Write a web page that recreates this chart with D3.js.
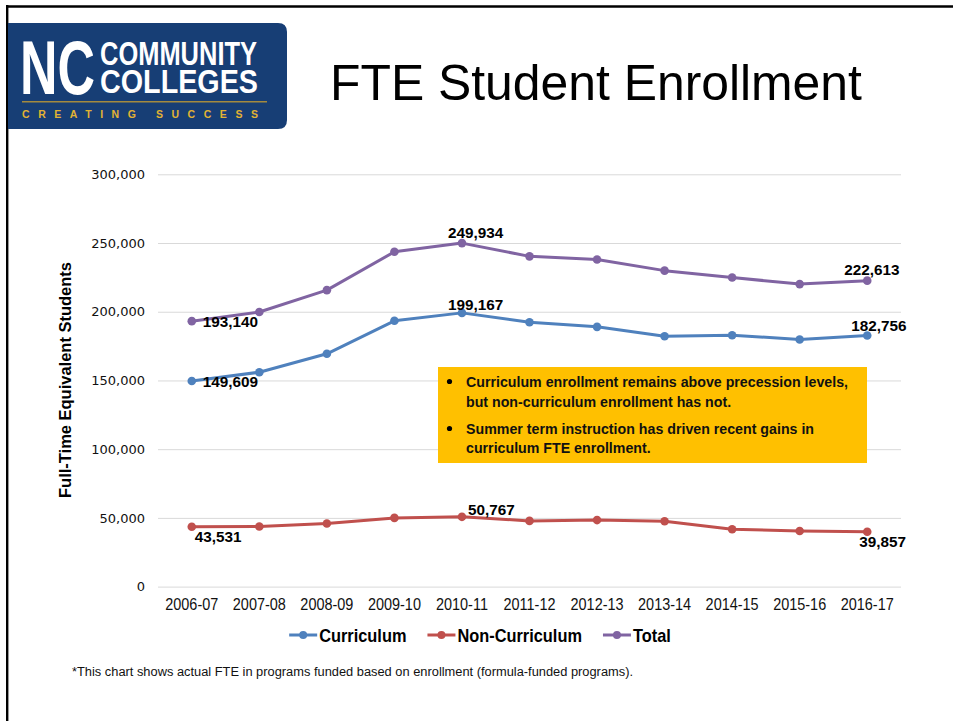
<!DOCTYPE html>
<html>
<head>
<meta charset="utf-8">
<script src="https://cdn.jsdelivr.net/npm/d3@7"></script>
<style>
  html, body { margin: 0; padding: 0; background: #fff; }
  svg { display: block; }
  .logo-line { font-family: 'Liberation Sans', Arial, sans-serif; font-weight: bold; font-size: 33px;
    line-height: 28px; height: 28px; color: #fff; white-space: nowrap; transform-origin: 0 0;
    margin: 0; padding: 0; overflow: visible; }
</style>
</head>
<body>
<svg id="chart" width="953" height="721"></svg>
<script>
// ---------------- data ----------------
const categories = ["2006-07","2007-08","2008-09","2009-10","2010-11","2011-12","2012-13","2013-14","2014-15","2015-16","2016-17"];
const curriculum    = [149609, 156000, 169400, 193400, 199167, 192400, 189000, 182200, 182900, 179800, 182756];
const nonCurriculum = [43531, 43700, 45900, 50000, 50767, 47800, 48400, 47500, 41700, 40500, 39857];
const total         = [193140, 199800, 215700, 243600, 249934, 240300, 238000, 229900, 224900, 220100, 222613];
const seriesNames   = ["Curriculum", "Non-Curriculum", "Total"];
const yTicks        = [0, 50000, 100000, 150000, 200000, 250000, 300000];
const labeledIdx    = [0, 4, 10]; // which points carry data labels
const titleText     = "FTE Student Enrollment";
const yAxisTitle    = "Full-Time Equivalent Students";
const logoWords     = ["COMMUNITY", "COLLEGES"];
const notes = [
  ["Curriculum enrollment remains above precession levels,", "but non-curriculum enrollment has not."],
  ["Summer term instruction has driven recent gains in", "curriculum FTE enrollment."]
];
const footnote = "*This chart shows actual FTE in programs funded based on enrollment (formula-funded programs).";

// ---------------- styling ----------------
const colors = { "Curriculum": "#4F81BD", "Non-Curriculum": "#C0504D", "Total": "#8064A2" };
const SANS = "'Liberation Sans', Arial, sans-serif";

const svg = d3.select("#chart");

function fitWidth(sel, w) {
  const n = sel.node();
  const fs = parseFloat(sel.attr("font-size"));
  const len = n.getComputedTextLength();
  sel.attr("font-size", fs * w / len);
  return fs * w / len;
}
// emulate a condensed face by squeezing glyphs horizontally
function condense(sel, factor) {
  sel.each(function () {
    const len = this.getComputedTextLength();
    d3.select(this).attr("textLength", len * factor).attr("lengthAdjust", "spacingAndGlyphs");
  });
}
function fitBox(g, text, x, baseline, w, h, weight, fill) {
  const fs = h / 0.716;
  const t = g.append("text").attr("font-family", SANS).attr("font-weight", weight)
    .attr("font-size", fs).attr("fill", fill).text(text);
  const len = t.node().getComputedTextLength();
  t.attr("transform", `translate(${x},${baseline}) scale(${w / len},1)`);
  return t;
}

// ---------------- frame ----------------
svg.append("line").attr("x1", 6).attr("x2", 953).attr("y1", 6.5).attr("y2", 6.5)
  .attr("stroke", "#000").attr("stroke-width", 2.6);
svg.append("line").attr("x1", 7.2).attr("x2", 7.2).attr("y1", 5).attr("y2", 721)
  .attr("stroke", "#000").attr("stroke-width", 2.4);

// ---------------- logo ----------------
const logo = svg.append("g");
const lx0 = 8, ly0 = 23, lx1 = 287, ly1 = 129, r = 9;
logo.append("path")
  .attr("d", `M${lx0},${ly0} H${lx1 - r} Q${lx1},${ly0} ${lx1},${ly0 + r} V${ly1 - r} Q${lx1},${ly1} ${lx1 - r},${ly1} H${lx0} Z`)
  .attr("fill", "#173e75");
fitBox(logo, "NC", 20, 94, 75, 54, "bold", "#ffffff");
const fo = logo.append("foreignObject").attr("x", 100).attr("y", 39.6).attr("width", 185).attr("height", 58);
const logoTargets = [157, 158];
logoWords.forEach((w, i) => {
  const div = fo.append("xhtml:div").attr("class", "logo-line").text(w);
  const span = div.node();
  // measure natural width
  const meas = svg.append("text").attr("font-family", SANS).attr("font-weight", "bold")
    .attr("font-size", 33).text(w);
  const nat = meas.node().getComputedTextLength();
  meas.remove();
  div.style("transform", `scaleX(${logoTargets[i] / nat})`);
});
logo.append("line").attr("x1", 22).attr("x2", 267).attr("y1", 101.7).attr("y2", 101.7)
  .attr("stroke", "#a48a3e").attr("stroke-width", 1.6);
logo.append("text").attr("x", 22).attr("y", 117.5)
  .attr("font-family", SANS).attr("font-weight", "bold").attr("font-size", 10.5)
  .attr("fill", "#e2b333").attr("textLength", 236).attr("lengthAdjust", "spacing")
  .text("CREATING SUCCESS");

// ---------------- title ----------------
const title = svg.append("text").attr("x", 330).attr("y", 100)
  .attr("font-family", SANS).attr("font-size", 48).attr("fill", "#000").text(titleText);
fitWidth(title, 532);

// ---------------- scales ----------------
const x = d3.scaleBand().domain(categories).range([158, 901]);
const cx = c => x(c) + x.bandwidth() / 2;
const y = d3.scaleLinear().domain([0, 300000]).range([586.6, 174.3]);

// ---------------- axes ----------------
const yAxis = svg.append("g").attr("transform", `translate(158,0)`)
  .call(d3.axisLeft(y).tickValues(yTicks).tickFormat(d3.format(",")).tickSize(-743).tickPadding(13));
yAxis.select(".domain").remove();
yAxis.selectAll("line").attr("stroke", "#d9d9d9").attr("stroke-width", 1);
yAxis.selectAll("text").attr("font-family", "'DejaVu Sans', sans-serif").attr("font-size", 13).attr("fill", "#111");

const xfs = 17;
const xAxis = svg.append("g").attr("transform", `translate(0,${y(0)})`)
  .call(d3.axisBottom(x).tickSize(0).tickPadding(23.6 - 0.71 * xfs));
xAxis.select(".domain").remove();
xAxis.selectAll("text").attr("font-family", SANS).attr("font-size", xfs).attr("fill", "#111");
condense(xAxis.selectAll("text"), 0.85);

const yt = svg.append("text")
  .attr("transform", `translate(71,380) rotate(-90)`)
  .attr("text-anchor", "middle").attr("font-family", SANS).attr("font-weight", "bold")
  .attr("font-size", 17).attr("fill", "#000").text(yAxisTitle);
yt.attr("textLength", 236).attr("lengthAdjust", "spacingAndGlyphs");

// ---------------- series ----------------
const seriesData = [
  { name: "Curriculum", values: curriculum },
  { name: "Non-Curriculum", values: nonCurriculum },
  { name: "Total", values: total }
];
const line = d3.line().x((d, i) => cx(categories[i])).y(d => y(d));

const gs = svg.append("g").selectAll("g").data(seriesData).join("g");
gs.append("path").attr("d", d => line(d.values)).attr("fill", "none")
  .attr("stroke", d => colors[d.name]).attr("stroke-width", 3).attr("stroke-linejoin", "round");
gs.selectAll("circle").data(d => d.values.map((v, i) => ({ v, i, name: d.name }))).join("circle")
  .attr("cx", d => cx(categories[d.i])).attr("cy", d => y(d.v)).attr("r", 4.3)
  .attr("fill", d => colors[d.name]);

// data-label offsets (dx = left edge offset, dy = baseline offset)
const labelOffsets = {
  "Curriculum":     [[11, 6], [-14, -3], [-16, -4]],
  "Non-Curriculum": [[3, 15], [6, -1.5], [-8, 15]],
  "Total":          [[11, 6], [-14, -5], [-23, -6]]
};
const fmt = d3.format(",");
seriesData.forEach(s => {
  labeledIdx.forEach((idx, k) => {
    const [dx, dy] = labelOffsets[s.name][k];
    svg.append("text")
      .attr("x", cx(categories[idx]) + dx).attr("y", y(s.values[idx]) + dy)
      .attr("font-family", SANS).attr("font-weight", "bold").attr("font-size", 15.3)
      .attr("fill", "#000").text(fmt(s.values[idx]));
  });
});

// ---------------- callout box ----------------
const box = svg.append("g");
box.append("rect").attr("x", 438).attr("y", 367).attr("width", 429).attr("height", 96).attr("fill", "#FFC000");
const nfs = 15.5;
const probe = box.append("text").attr("font-family", SANS).attr("font-weight", "bold")
  .attr("font-size", nfs).text(notes[0][0]);
const nFactor = 382 / probe.node().getComputedTextLength();
probe.remove();
const baselines = [[387, 406.8], [434, 452.5]];
notes.forEach((para, p) => {
  box.append("circle").attr("cx", 449.5).attr("cy", baselines[p][0] - 5.5).attr("r", 2.6).attr("fill", "#000");
  para.forEach((ln, j) => {
    const t = box.append("text").attr("x", 466).attr("y", baselines[p][j])
      .attr("font-family", SANS).attr("font-weight", "bold").attr("font-size", nfs)
      .attr("fill", "#111").text(ln);
    condense(t, nFactor);
  });
});

// ---------------- legend ----------------
const legend = svg.append("g");
const lfs = 17.8;
let lxPos = 0;
const items = [];
seriesNames.forEach((n, i) => {
  const g = legend.append("g");
  g.append("line").attr("x1", 0).attr("x2", 28).attr("y1", 0).attr("y2", 0)
    .attr("stroke", colors[n]).attr("stroke-width", 3);
  g.append("circle").attr("cx", 14).attr("cy", 0).attr("r", 4).attr("fill", colors[n]);
  const t = g.append("text").attr("x", 30).attr("y", 6.5).attr("font-family", SANS)
    .attr("font-weight", "bold").attr("font-size", lfs).attr("fill", "#000").text(n);
  condense(t, 0.92);
  const w = 30 + +t.attr("textLength");
  items.push({ g, x: lxPos });
  lxPos += w + 21;
});
const legW = lxPos - 21;
const legX0 = 480 - legW / 2;
items.forEach(it => it.g.attr("transform", `translate(${legX0 + it.x},635)`));

// ---------------- footnote ----------------
const fn = svg.append("text").attr("x", 72).attr("y", 675.5)
  .attr("font-family", SANS).attr("font-size", 12.5).attr("fill", "#111").text(footnote);
fn.attr("textLength", 561).attr("lengthAdjust", "spacingAndGlyphs");
</script>
</body>
</html>
